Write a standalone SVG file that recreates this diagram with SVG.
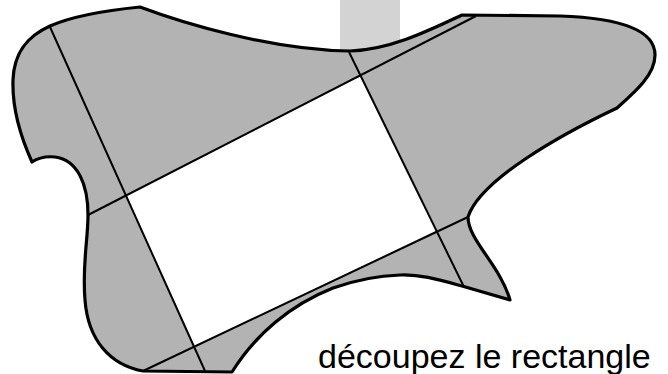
<svg xmlns="http://www.w3.org/2000/svg" width="668" height="374" viewBox="0 0 668 374">
<style>
.outline{fill:#b3b3b3;stroke:#000;stroke-width:3.2;stroke-linejoin:round}
.cut{stroke:#000;stroke-width:2;fill:none}
.label{font-family:"Liberation Sans",Arial,sans-serif;font-size:34px;fill:#000}
</style>
<rect x="340" y="0" width="60" height="60" fill="#d3d3d3"/>
<g id="shape">
<path class="outline" d="M 50,26 C 75,15 110,10 140,7 C 180,22 270,50 350,51 C 390,50 430,30 462,15 L 560,16 C 620,18 655,30 655,55 C 655,75 635,92 617,108 C 560,135 480,180 468,217 C 468,240 500,265 510,300 L 462,286 C 440,280 420,274 400,275 C 370,276 350,282 333,288 C 290,305 255,335 232,372 L 143,371 C 110,365 88,340 85,300 C 82,265 88,240 88,215 C 88,185 78,160 55,157 C 45,156 38,158 32,162 C 22,140 12,110 13,80 C 14,50 30,35 50,26 Z"/>
</g>
<g id="rectangle">
<polygon points="126,195 361,76 437,230 194,347" fill="#fff"/>
</g>
<g id="connectors">
<line class="cut" x1="50" y1="27" x2="205" y2="371"/>
<line class="cut" x1="476" y1="16" x2="88" y2="215"/>
<line class="cut" x1="349" y1="52" x2="464" y2="287"/>
<line class="cut" x1="468" y1="217" x2="143" y2="371"/>
</g>
<text class="label" x="318" y="368">découpez le rectangle</text>
</svg>
